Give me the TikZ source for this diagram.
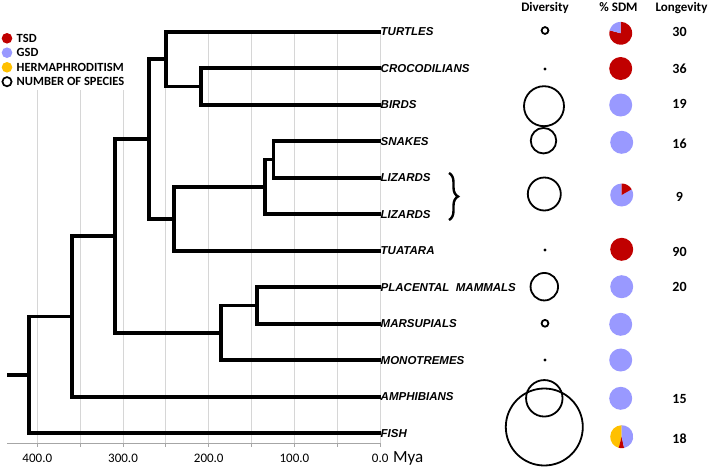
\documentclass[tikz,border=0pt]{standalone}
\usepackage{fontspec}
\setmainfont{Carlito}
\newfontfamily\arialf{Liberation Sans}
\usetikzlibrary{decorations.pathreplacing}
\definecolor{tsd}{HTML}{C00000}
\definecolor{gsd}{HTML}{9999FF}
\definecolor{herm}{HTML}{FFC000}
\definecolor{gridc}{HTML}{D6D6D6}
\definecolor{axisc}{HTML}{A6A6A6}
\begin{document}
\begin{tikzpicture}[x=1pt,y=-1pt,
  branch/.style={line width=3.6pt},
  leaf/.style={anchor=west, inner sep=0pt, font=\arialf\bfseries\itshape\fontsize{11.5}{13}\selectfont},
  legtext/.style={anchor=west, inner sep=0pt, font=\bfseries\fontsize{12.5}{14}\selectfont},
  legdot/.style={circle, inner sep=0pt, minimum size=10.6pt},
  header/.style={anchor=base, inner sep=0pt, font=\bfseries\fontsize{13}{15}\selectfont},
  longev/.style={inner sep=0pt, font=\bfseries\fontsize{14}{16}\selectfont},
  axlab/.style={anchor=base, inner sep=0pt, font=\fontsize{13}{15}\selectfont},
  divc/.style={circle, draw=black, line width=1.8pt, inner sep=0pt},
  divdot/.style={circle, fill=black, inner sep=0pt, minimum size=3.4pt},
  piefull/.style={circle, inner sep=0pt, minimum size=23pt},
  gridline/.style={draw=gridc, line width=0.9pt}
]
\useasboundingbox (0,0) rectangle (709,466);

% grid lines
\foreach \k in {0,1,2}{
  \draw[gridline] ({37.3+42.86*\k},90) -- ({37.3+42.86*\k},443);
}
\foreach \k in {3,...,8}{
  \draw[gridline] ({37.3+42.86*\k},31) -- ({37.3+42.86*\k},443);
}
% axis
\draw[axisc, line width=1pt] (7,443) -- (381,443);
\foreach \k in {0,...,8}{
  \draw[axisc, line width=0.8pt] ({37.3+42.86*\k},443) -- ({37.3+42.86*\k},447);
}
\foreach \k/\t in {0/400.0,2/300.0,4/200.0,6/100.0,8/0.0}{
  \node[axlab] (ax\k) at ({37.3+42.86*\k},462.7) {\t};
}
\node[anchor=base west, inner sep=0pt, font=\fontsize{17}{19}\selectfont] (mya) at (393,462.7) {Mya};

% legend
\node[legdot, fill=tsd] (lg1) at (7,38.3) {};
\node[legdot, fill=gsd] (lg2) at (7,52.7) {};
\node[legdot, fill=herm] (lg3) at (7,67.3) {};
\node[circle, draw=black, line width=1.7pt, inner sep=0pt, minimum size=9.2pt] (lg4) at (7,81.7) {};
\node[legtext] (lt1) at (16.5,38.3) {TSD};
\node[legtext] (lt2) at (16.5,52.7) {GSD};
\node[legtext] (lt3) at (16.5,67.3) {HERMAPHRODITISM};
\node[legtext] (lt4) at (16.5,81.7) {NUMBER OF SPECIES};

% leaf labels
\node[leaf] (tur) at (380.5,31.7) {TURTLES};
\node[leaf] (cro) at (380.5,68.2) {CROCODILIANS};
\node[leaf] (bir) at (380.5,104.7) {BIRDS};
\node[leaf] (sna) at (380.5,141.2) {SNAKES};
\node[leaf] (liz1) at (380.5,177.7) {LIZARDS};
\node[leaf] (liz2) at (380.5,214.2) {LIZARDS};
\node[leaf] (tua) at (380.5,250.7) {TUATARA};
\node[leaf] (pla) at (380.5,287.2) {PLACENTAL\ \ MAMMALS};
\node[leaf] (mar) at (380.5,323.7) {MARSUPIALS};
\node[leaf] (mon) at (380.5,360.2) {MONOTREMES};
\node[leaf] (amp) at (380.5,396.7) {AMPHIBIANS};
\node[leaf] (fis) at (380.5,433.2) {FISH};

% internal nodes
\coordinate (nCB) at (200.7,86.45);
\coordinate (nTCB) at (166,59.1);
\coordinate (nSL) at (273.3,159.45);
\coordinate (nSq) at (265,186.8);
\coordinate (nLep) at (174,218.75);
\coordinate (nRep) at (149,138.9);
\coordinate (nPM) at (256.7,305.45);
\coordinate (nMam) at (221,332.8);
\coordinate (nAmn) at (115,235.9);
\coordinate (nTet) at (71.7,316.3);
\coordinate (nRoot) at (29,374.75);
\coordinate (stub) at (7.3,374.75);

% branches
\draw[branch] (nCB) |- (cro.west);
\draw[branch] (nCB) |- (bir.west);
\draw[branch] (nTCB) |- (tur.west);
\draw[branch] (nTCB) |- (nCB);
\draw[branch] (nSL) |- (sna.west);
\draw[branch] (nSL) |- (liz1.west);
\draw[branch] (nSq) |- (nSL);
\draw[branch] (nSq) |- (liz2.west);
\draw[branch] (nLep) |- (nSq);
\draw[branch] (nLep) |- (tua.west);
\draw[branch] (nRep) |- (nTCB);
\draw[branch] (nRep) |- (nLep);
\draw[branch] (nPM) |- (pla.west);
\draw[branch] (nPM) |- (mar.west);
\draw[branch] (nMam) |- (nPM);
\draw[branch] (nMam) |- (mon.west);
\draw[branch] (nAmn) |- (nRep);
\draw[branch] (nAmn) |- (nMam);
\draw[branch] (nTet) |- (nAmn);
\draw[branch] (nTet) |- (amp.west);
\draw[branch] (nRoot) |- (nTet);
\draw[branch] (nRoot) |- (fis.west);
\draw[branch] (stub) -- (nRoot);

% brace
\coordinate (brT) at (449,173);
\coordinate (brB) at (449,220);
\draw[line width=2.4pt, decorate, decoration={brace, amplitude=9pt}] (brT) -- (brB);

% headers
\node[header] (hdiv) at (545,11.7) {Diversity};
\node[header] (hsdm) at (618.5,11.7) {\% SDM};
\node[header] (hlon) at (681.5,11.7) {Longevity};

% diversity circles
\node[divc, minimum size=6.8pt] (d1) at (545,30.5) {};
\node[divdot] (d2) at (545,69) {};
\node[divc, minimum size=40pt] (d3) at (544,106.2) {};
\node[divc, minimum size=25.5pt] (d4) at (543.5,140.7) {};
\node[divc, minimum size=33pt] (d5) at (544.3,194) {};
\node[divdot] (d6) at (545,250) {};
\node[divc, minimum size=27.5pt] (d7) at (544.3,286.7) {};
\node[divc, minimum size=6.8pt] (d8) at (545,323.3) {};
\node[divdot] (d9) at (545,360) {};
\node[divc, minimum size=36.5pt] (d10) at (544.3,398.3) {};
\node[divc, minimum size=77pt] (d11) at (544.3,427) {};

% pies
\coordinate (p1) at (620.7,33.3);
\fill[tsd] (p1) -- ++(165:11.5pt) arc[start angle=165, end angle=450, radius=11.5pt] -- cycle;
\fill[gsd] (p1) -- ++(90:11.5pt) arc[start angle=90, end angle=165, radius=11.5pt] -- cycle;
\node[piefull, fill=tsd] (p2) at (620.7,68.5) {};
\node[piefull, fill=gsd] (p3) at (620.7,105) {};
\node[piefull, fill=gsd] (p4) at (621.7,142.3) {};
\coordinate (p5) at (621.7,195);
\fill[gsd] (p5) -- ++(90:11.5pt) arc[start angle=90, end angle=390, radius=11.5pt] -- cycle;
\fill[tsd] (p5) -- ++(30:11.5pt) arc[start angle=30, end angle=90, radius=11.5pt] -- cycle;
\node[piefull, fill=tsd] (p6) at (621.7,249.3) {};
\node[piefull, fill=gsd] (p7) at (621.7,286.7) {};
\node[piefull, fill=gsd] (p8) at (620.7,324.3) {};
\node[piefull, fill=gsd] (p9) at (620.7,360) {};
\node[piefull, fill=gsd] (p10) at (620.7,398.3) {};
\coordinate (p11) at (621.7,436.7);
\fill[herm] (p11) -- ++(90:11.5pt) arc[start angle=90, end angle=255, radius=11.5pt] -- cycle;
\fill[tsd] (p11) -- ++(255:11.5pt) arc[start angle=255, end angle=282, radius=11.5pt] -- cycle;
\fill[gsd] (p11) -- ++(282:11.5pt) arc[start angle=282, end angle=450, radius=11.5pt] -- cycle;

% longevity
\node[longev] (l1) at (679.5,31.7) {30};
\node[longev] (l2) at (679.5,68.7) {36};
\node[longev] (l3) at (679.5,104.3) {19};
\node[longev] (l4) at (679.5,144) {16};
\node[longev] (l5) at (679.5,197.3) {9};
\node[longev] (l6) at (679.5,252.3) {90};
\node[longev] (l7) at (679.5,286.7) {20};
\node[longev] (l8) at (679.5,399) {15};
\node[longev] (l9) at (679.5,438.3) {18};
\end{tikzpicture}
\end{document}
